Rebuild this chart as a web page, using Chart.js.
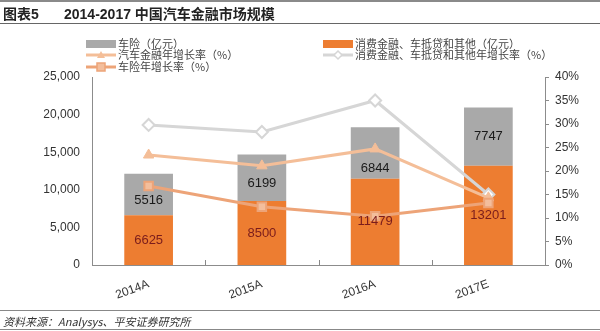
<!DOCTYPE html>
<html><head><meta charset="utf-8">
<script src="https://cdn.jsdelivr.net/npm/chart.js@4/dist/chart.umd.min.js"></script>
<style>
html,body{margin:0;padding:0;background:#fff;}
#wrap{position:relative;width:600px;height:331px;overflow:hidden;font-family:"Liberation Sans","Noto Sans CJK SC",sans-serif;}
#c{position:absolute;left:0;top:0;}
.hl{position:absolute;left:0;width:600px;}
#title{position:absolute;top:5px;left:3px;font-size:14px;font-weight:bold;color:#222;white-space:nowrap;line-height:18px;}
#title span.t{position:absolute;left:61px;top:0;}
#legend{position:absolute;left:0;top:0;width:600px;height:80px;font-size:11px;color:#444;font-family:"Noto Sans CJK SC","Liberation Sans",sans-serif;}
.li{position:absolute;height:12px;line-height:12px;white-space:nowrap;}
.li svg{position:absolute;left:0;top:0;}
.li span{position:absolute;left:32px;top:-1px;}
#src{position:absolute;left:3px;top:313px;font-size:11px;font-style:italic;color:#333;white-space:nowrap;font-family:"Noto Sans CJK SC","Liberation Sans",sans-serif;}
</style></head>
<body><div id="wrap">
<canvas id="c" width="600" height="331"></canvas>
<div class="hl" style="top:0;height:2px;background:#8a8a8a"></div>
<div id="title">图表5<span class="t">2014-2017 中国汽车金融市场规模</span></div>
<div class="hl" style="top:23px;height:1px;background:#666"></div>
<div id="legend"></div>
<div class="hl" style="top:310px;height:1px;background:#888"></div>
<div id="src">资料来源：Analysys、平安证券研究所</div>
<div class="hl" style="top:329px;height:1px;background:#888"></div>
</div>
<script>
const categories = ['2014A','2015A','2016A','2017E'];
const insurance = [5516, 6199, 6844, 7747];            // 车险（亿元）
const consumerFinance = [6625, 8500, 11479, 13201];    // 消费金融、车抵贷和其他（亿元）
const autoFinanceGrowth = [23.4, 21.1, 24.7, 14.3];    // 汽车金融年增长率（%）
const consumerGrowth = [29.8, 28.3, 35.0, 15.0];       // 消费金融、车抵贷和其他年增长率（%）
const insuranceGrowth = [16.8, 12.4, 10.4, 13.2];      // 车险年增长率（%）
const leftTicks = [0, 5000, 10000, 15000, 20000, 25000];
const rightTicks = [0, 5, 10, 15, 20, 25, 30, 35, 40];

const ORANGE = '#ED7D31', GRAY = '#A9A9A9';
const L_GRAY = '#D6D6D6', PEACH = '#F4BE98', PEACH2 = '#EDA478';
const FONT = '"Liberation Sans","Noto Sans CJK SC",sans-serif';

const datasets = [
  {type:'bar', label:'车险（亿元）', data:insurance, backgroundColor:GRAY, stack:'s', yAxisID:'y', order:11, labelColor:'#1a1a1a', labelNudge:[6,6,15,0]},
  {type:'bar', label:'消费金融、车抵贷和其他（亿元）', data:consumerFinance, backgroundColor:ORANGE, stack:'s', yAxisID:'y', order:10, labelColor:'#7a1c1c', labelNudge:[0,0,0,0]},
  {type:'line', label:'汽车金融年增长率（%）', data:autoFinanceGrowth, borderColor:PEACH, backgroundColor:PEACH, borderWidth:3, pointStyle:'triangle', pointRadius:6, pointBorderWidth:1, yAxisID:'y1', order:2},
  {type:'line', label:'消费金融、车抵贷和其他年增长率（%）', data:consumerGrowth, borderColor:L_GRAY, backgroundColor:'#fff', borderWidth:3, pointStyle:'rectRot', pointRadius:6, pointBorderWidth:2, yAxisID:'y1', order:3},
  {type:'line', label:'车险年增长率（%）', data:insuranceGrowth, borderColor:PEACH2, backgroundColor:'#F3BE9C', borderWidth:3, pointStyle:'rect', pointRadius:6, pointBorderWidth:2, yAxisID:'y1', order:1}
];

const barLabels = {
  id:'barLabels',
  afterDatasetsDraw(chart){
    const ctx = chart.ctx;
    ctx.save();
    ctx.font = '13px ' + FONT;
    ctx.textAlign = 'center'; ctx.textBaseline = 'middle';
    chart.data.datasets.forEach((ds,i)=>{
      if(ds.type!=='bar') return;
      const meta = chart.getDatasetMeta(i);
      meta.data.forEach((el,j)=>{
        const yMid = (el.y + el.base)/2 + (ds.labelNudge ? ds.labelNudge[j] : 0);
        ctx.fillStyle = ds.labelColor;
        ctx.fillText(String(ds.data[j]), el.x, yMid);
      });
    });
    ctx.restore();
  }
};
const xTicks = {
  id:'xTicks',
  afterDraw(chart){
    const xs = chart.scales.x, ctx = chart.ctx;
    const n = xs.ticks.length, y = xs.top;
    ctx.save(); ctx.strokeStyle = '#888'; ctx.lineWidth = 1;
    for(let i=1;i<n;i++){
      const x = Math.round(xs.getPixelForValue(i-0.5))+0.5;
      ctx.beginPath(); ctx.moveTo(x,y); ctx.lineTo(x,y-5); ctx.stroke();
    }
    ctx.restore();
  }
};

const orderedDatasets = [datasets[1], datasets[0], datasets[2], datasets[3], datasets[4]];

new Chart(document.getElementById('c'), {
  data:{labels:categories, datasets:orderedDatasets},
  plugins:[barLabels, xTicks],
  options:{
    responsive:false, animation:false,
    layout:{padding:{top:77, left:0, right:0, bottom:0}},
    plugins:{legend:{display:false}, tooltip:{enabled:false}},
    datasets:{bar:{categoryPercentage:1, barPercentage:0.43}},
    scales:{
      x:{stacked:true, offset:true,
        grid:{display:false, drawTicks:false},
        border:{display:true, color:'#8c8c8c', width:1},
        ticks:{minRotation:20, maxRotation:20, padding:12, color:'#333', font:{size:12, family:FONT}},
        afterFit(s){ s.height = 66; }
      },
      y:{stacked:true, position:'left', min:0, max:25000,
        afterBuildTicks(s){ s.ticks = leftTicks.map(v=>({value:v})); },
        grid:{display:false, drawTicks:false},
        border:{display:true, color:'#8c8c8c', width:1},
        ticks:{padding:12, color:'#333', font:{size:12, family:FONT}, callback:v=>v.toLocaleString('en-US')},
        afterFit(s){ s.width = 92; }
      },
      y1:{position:'right', min:0, max:40,
        afterBuildTicks(s){ s.ticks = rightTicks.map(v=>({value:v})); },
        grid:{drawOnChartArea:false, drawTicks:true, tickLength:4, color:'#8c8c8c'},
        border:{display:true, color:'#8c8c8c', width:1},
        ticks:{padding:6, color:'#333', font:{size:12, family:FONT}, callback:v=>v+'%'},
        afterFit(s){ s.width = 55; }
      }
    }
  }
});

// HTML legend built from the datasets
const legendPos = [
  {ds:0, x:86, y:38}, {ds:1, x:323, y:38},
  {ds:2, x:86, y:49}, {ds:3, x:323, y:49},
  {ds:4, x:86, y:61}
];
const lg = document.getElementById('legend');
legendPos.forEach(p=>{
  const ds = datasets[p.ds];
  const d = document.createElement('div');
  d.className='li'; d.style.left=p.x+'px'; d.style.top=p.y+'px';
  let svg;
  if(ds.type==='bar'){
    svg = `<svg width="30" height="12"><rect x="0" y="2" width="30" height="8" fill="${ds.backgroundColor}"/></svg>`;
  } else {
    let m='';
    if(ds.pointStyle==='triangle') m=`<polygon points="15,2 19,9 11,9" fill="${ds.backgroundColor}"/>`;
    else if(ds.pointStyle==='rectRot') m=`<polygon points="15,2 19,6 15,10 11,6" fill="#fff" stroke="${ds.borderColor}" stroke-width="1.5"/>`;
    else m=`<rect x="11" y="2" width="8" height="8" fill="${ds.backgroundColor}" stroke="${ds.borderColor}" stroke-width="1.5"/>`;
    svg = `<svg width="30" height="12"><line x1="0" y1="6" x2="30" y2="6" stroke="${ds.borderColor}" stroke-width="3"/>${m}</svg>`;
  }
  d.innerHTML = svg + `<span>${ds.label}</span>`;
  lg.appendChild(d);
});
</script>
</body></html>
